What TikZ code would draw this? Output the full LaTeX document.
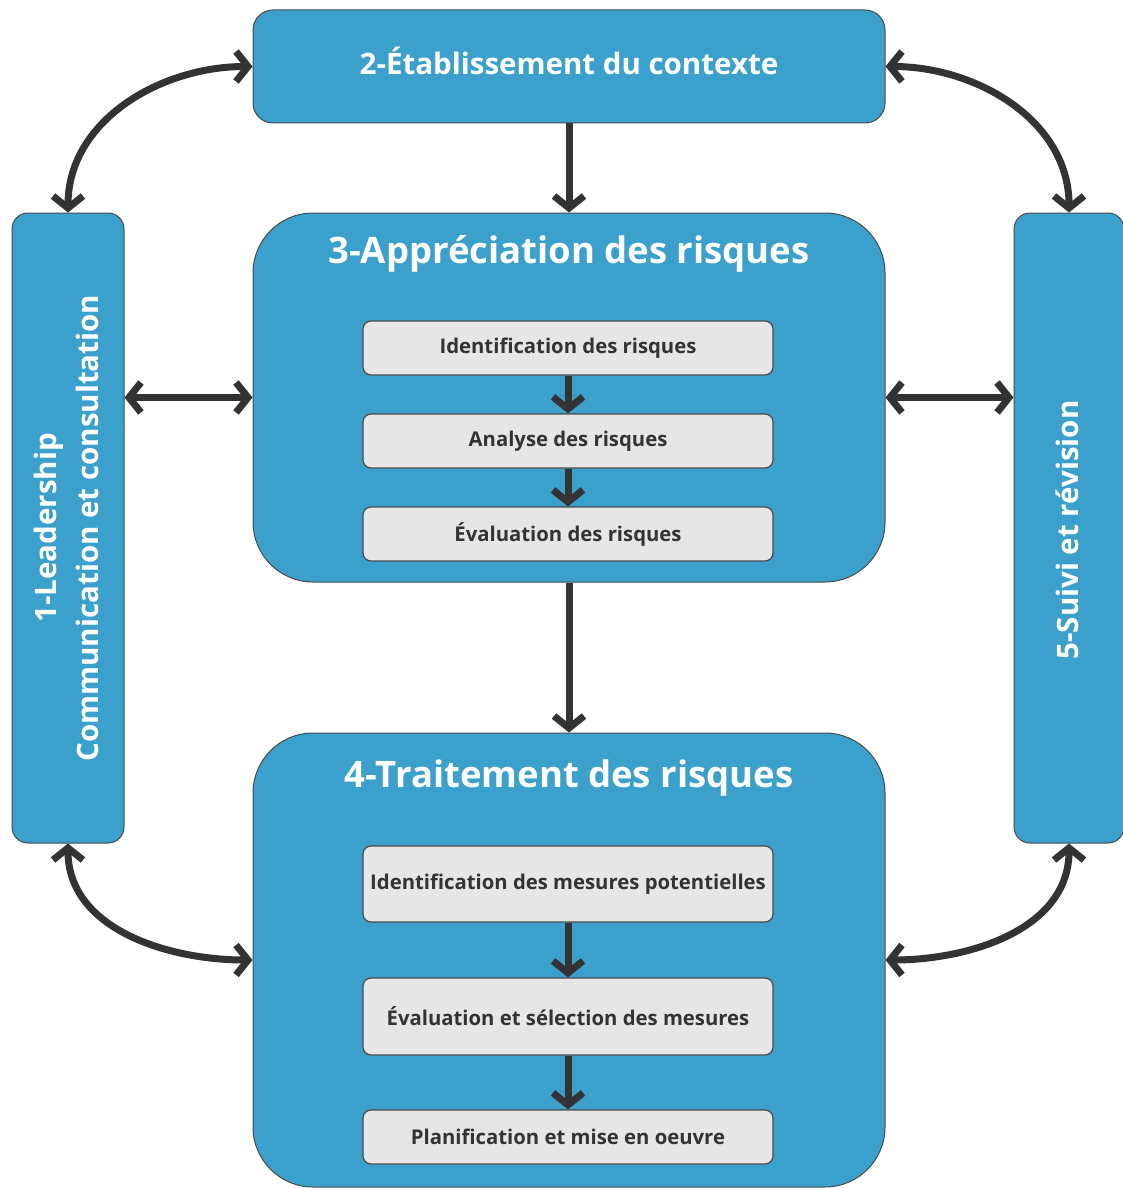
\documentclass[tikz,border=0pt]{standalone}
\usepackage{fontspec}
\setmainfont{Open Sans}
\usetikzlibrary{arrows.meta,calc}
\definecolor{boxblue}{HTML}{3BA1CC}
\definecolor{edgegray}{HTML}{4A4A4A}
\definecolor{subfill}{HTML}{E6E6E6}
\definecolor{arrowgray}{HTML}{333333}
\begin{document}
\begin{tikzpicture}[x=1pt,y=-1pt,
  bluebox/.style={draw=edgegray,line width=1pt,fill=boxblue,inner sep=0pt,text=white,font=\bfseries},
  subbox/.style={draw=edgegray,line width=1.2pt,fill=subfill,rounded corners=8pt,inner sep=0pt,
    minimum width=410pt,text=arrowgray,font=\fontsize{20.3}{24}\selectfont\bfseries},
  conn/.style={draw=arrowgray,line width=7pt,line cap=butt,
    arrows={-{Straight Barb[length=12pt,width=30pt,line join=miter]}}},
  dconn/.style={conn,arrows={{Straight Barb[length=12pt,width=30pt,line join=miter]}-{Straight Barb[length=12pt,width=30pt,line join=miter]}}},
  title/.style={text=white,font=\fontsize{36.5}{42}\selectfont\bfseries,inner sep=0pt}
]
\useasboundingbox (0,0) rectangle (1122,1188);
% main boxes
\node[bluebox,rounded corners=20pt,minimum width=632pt,minimum height=113pt] (b2) at (569,66.5) {};
\node[bluebox,rounded corners=16pt,minimum width=112pt,minimum height=630pt] (b1) at (68,528) {};
\node[bluebox,rounded corners=16pt,minimum width=110pt,minimum height=630pt] (b5) at (1069,528) {};
\node[bluebox,rounded corners=60pt,minimum width=632pt,minimum height=369pt] (b3) at (569,397.5) {};
\node[bluebox,rounded corners=60pt,minimum width=632pt,minimum height=454pt] (b4) at (569,960) {};
% labels
\node[text=white,font=\fontsize{29.5}{34}\selectfont\bfseries,inner sep=0pt] (t2) at (569,61) {2-Établissement du contexte};
\node[rotate=90,text=white,font=\fontsize{29.5}{42}\selectfont\bfseries,align=center,inner sep=0pt] (t1) at (66,528) {1-Leadership\\Communication et consultation};
\node[rotate=90,text=white,font=\fontsize{29.5}{34}\selectfont\bfseries,inner sep=0pt] (t5) at (1067,530) {5-Suivi et révision};
\node[title] (t3) at (569,254) {3-Appréciation des risques};
\node[title] (t4) at (569,778) {4-Traitement des risques};
% sub boxes
\node[subbox,minimum height=54pt] (s1) at (568,348) {Identification des risques};
\node[subbox,minimum height=54pt] (s2) at (568,441) {Analyse des risques};
\node[subbox,minimum height=54pt] (s3) at (568,534) {Évaluation des risques};
\node[subbox,minimum height=76pt] (s4) at (568,884) {Identification des mesures potentielles};
\node[subbox,minimum height=77pt] (s5) at (568,1016.5) {Évaluation et sélection des mesures};
\node[subbox,minimum height=54pt] (s6) at (568,1137) {Planification et mise en oeuvre};
% connectors
\draw[conn] (b2.south) -- (b3.north);
\draw[conn] (b3.south) -- (b4.north);
\draw[conn] (s1.south) -- (s2.north);
\draw[conn] (s2.south) -- (s3.north);
\draw[conn] (s4.south) -- (s5.north);
\draw[conn] (s5.south) -- (s6.north);
\draw[dconn] (b1.east |- b3.west) -- (b3.west);
\draw[dconn] (b3.east) -- (b5.west |- b3.east);
\draw[dconn] (b1.north) to[out=90,in=180] (b2.west);
\draw[dconn] (b2.east) to[out=0,in=90] (b5.north);
\draw[dconn] (b1.south) to[out=-90,in=180] (b4.west);
\draw[dconn] (b5.south) to[out=-90,in=0] (b4.east);
\end{tikzpicture}
\end{document}
